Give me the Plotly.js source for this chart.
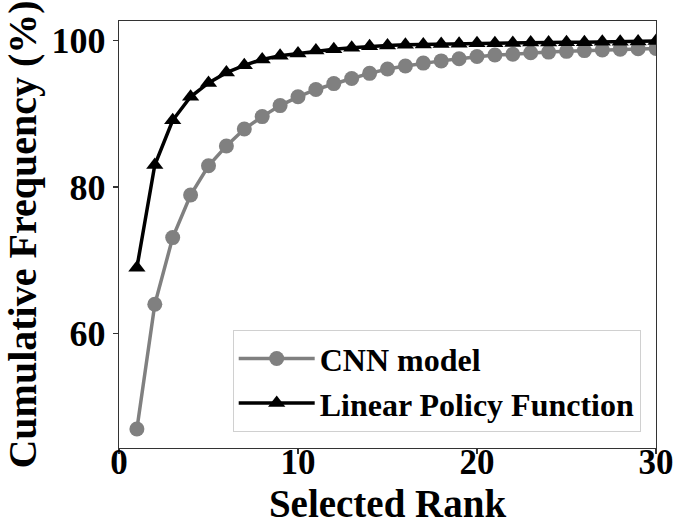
<!DOCTYPE html>
<html>
<head>
<meta charset="utf-8">
<script src="https://cdn.plot.ly/plotly-3.0.1.min.js"></script>
<style>
  html, body { margin: 0; padding: 0; background: #fff; }
  #chart { width: 676px; height: 525px; }
</style>
</head>
<body>
<div id="chart"></div>
<script>
// Selected rank (top-k) positions
const ranks = [1, 2, 3, 4, 5, 6, 7, 8, 9, 10, 11, 12, 13, 14, 15,
               16, 17, 18, 19, 20, 21, 22, 23, 24, 25, 26, 27, 28, 29, 30];

// Cumulative frequency (%) of the CNN model
const cnnModel = [47.0, 64.0, 73.1, 78.9, 82.9, 85.6, 87.9, 89.6, 91.1, 92.3,
                  93.3, 94.1, 94.8, 95.5, 96.1, 96.5, 96.9, 97.2, 97.5, 97.8,
                  98.0, 98.1, 98.3, 98.4, 98.5, 98.6, 98.7, 98.8, 98.85, 98.9];

// Cumulative frequency (%) of the linear policy function
const linearPolicy = [69.0, 83.0, 89.1, 92.3, 94.2, 95.6, 96.6, 97.4, 97.9, 98.2,
                      98.6, 98.8, 99.0, 99.2, 99.3, 99.4, 99.45, 99.5, 99.55, 99.6,
                      99.6, 99.65, 99.7, 99.7, 99.75, 99.75, 99.8, 99.8, 99.85, 99.9];

const seriesNames = ['CNN model', 'Linear Policy Function'];
const xTicks = [0, 10, 20, 30];
const yTicks = [60, 80, 100];

const serif = 'Liberation Serif, Times New Roman, serif';

const traces = [
  {
    x: ranks, y: cnnModel, name: seriesNames[0],
    type: 'scatter', mode: 'lines+markers',
    line: { color: '#808080', width: 3.5 },
    marker: { symbol: 'circle', size: 15, color: '#808080' }
  },
  {
    x: ranks, y: linearPolicy, name: seriesNames[1],
    type: 'scatter', mode: 'lines+markers',
    line: { color: '#000000', width: 3.5 },
    marker: { symbol: 'triangle-up', size: 15, color: '#000000' }
  }
];

const axisCommon = {
  showgrid: false, zeroline: false,
  showline: true, mirror: true, linecolor: '#333', linewidth: 1.3,
  ticks: 'outside', ticklen: 5, tickwidth: 1.3, tickcolor: '#333',
  tickfont: { family: serif, size: 36, color: '#000', weight: 'bold' }
};

const layout = {
  width: 676, height: 525,
  margin: { l: 119, r: 20, t: 21, b: 77 },
  paper_bgcolor: '#fff', plot_bgcolor: '#fff',
  showlegend: true,
  legend: {
    x: 0.9715, y: 0.037, xanchor: 'right', yanchor: 'bottom',
    bgcolor: 'rgba(255,255,255,0.8)', bordercolor: '#d0d0d0', borderwidth: 1,
    font: { family: serif, size: 32, color: '#000', weight: 'bold' },
    itemwidth: 76
  },
  xaxis: Object.assign({}, axisCommon, {
    range: [0, 30], tickvals: xTicks, ticktext: xTicks.map(String),
    tickfont: { family: serif, size: 35, color: '#000', weight: 'bold' },
    ticklabelstandoff: -22,
    title: { text: 'Selected Rank', standoff: 6,
             font: { family: serif, size: 39, color: '#000', weight: 'bold' } }
  }),
  yaxis: Object.assign({}, axisCommon, {
    range: [44.4, 102.64], tickvals: yTicks, ticktext: yTicks.map(String),
    title: { text: 'Cumulative Frequency (%)', standoff: 2,
             font: { family: serif, size: 40, color: '#000', weight: 'bold' } }
  })
};

Plotly.newPlot('chart', traces, layout, { staticPlot: true, displayModeBar: false });
</script>
</body>
</html>
